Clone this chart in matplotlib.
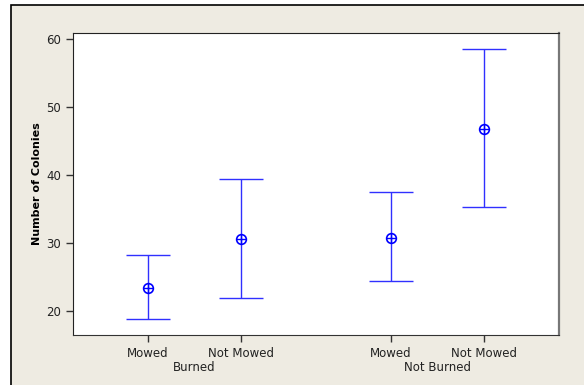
import matplotlib.pyplot as plt
from matplotlib.patches import Rectangle
import numpy as np

# interval plot values
groups = ['Burned', 'Not Burned']
levels = ['Mowed', 'Not Mowed', 'Mowed', 'Not Mowed']
means = [23.4, 30.6, 30.8, 46.8]
upper = [28.2, 39.4, 37.5, 58.6]
lower = [18.8, 22.0, 24.4, 35.3]

xpos = np.array([1.0, 2.0, 3.61, 4.61])

fig = plt.figure(figsize=(5.84, 3.85), dpi=100)
fig.patch.set_facecolor('white')

# graph window background, only its top/left edges are in view
fig.patches.append(Rectangle((11 / 584, -0.1), 1.2, 1.1 - 5 / 385, transform=fig.transFigure,
                             facecolor='#EEEBE2', edgecolor='black', linewidth=1.2, zorder=-10))

ax = fig.add_axes([73 / 584, 1 - 335 / 385, (559 - 73) / 584, (335 - 33) / 385])
ax.set_facecolor('white')

m = np.array(means)
yerr = [m - np.array(lower), np.array(upper) - m]
ax.errorbar(xpos, m, yerr=yerr, fmt='none', ecolor='#3030FF', elinewidth=1.0,
            capsize=16, capthick=1.0)
ax.plot(xpos, m, linestyle='none', marker='o', markersize=7, markerfacecolor='none',
        markeredgecolor='blue', markeredgewidth=1.2)
ax.plot(xpos, m, linestyle='none', marker='+', markersize=7, markeredgecolor='blue',
        markeredgewidth=1.0)

ax.set_xlim(0.194, 5.42)
ax.set_ylim(16.5, 60.9)
ax.set_yticks([20, 30, 40, 50, 60])
ax.set_xticks(xpos)
ax.set_xticklabels(levels)
ax.tick_params(axis='both', direction='out', length=5, width=1, colors='#333333',
               labelsize=8.5, labelcolor='#222222')

for s in ['top', 'left']:
    ax.spines[s].set_color('#222222')
ax.spines['bottom'].set_color('#333333')
ax.spines['right'].set_color('#777777')
ax.spines['right'].set_linewidth(1.6)

for i, g in enumerate(groups):
    cx = (xpos[2 * i] + xpos[2 * i + 1]) / 2
    ax.text(cx, -0.108, g, transform=ax.get_xaxis_transform(), ha='center', va='center',
            fontsize=8.5, color='#222222')

ax.set_ylabel('Number of Colonies', fontsize=8, fontweight='bold', labelpad=3)

fig.savefig('out.png', dpi=100, facecolor=fig.get_facecolor())
